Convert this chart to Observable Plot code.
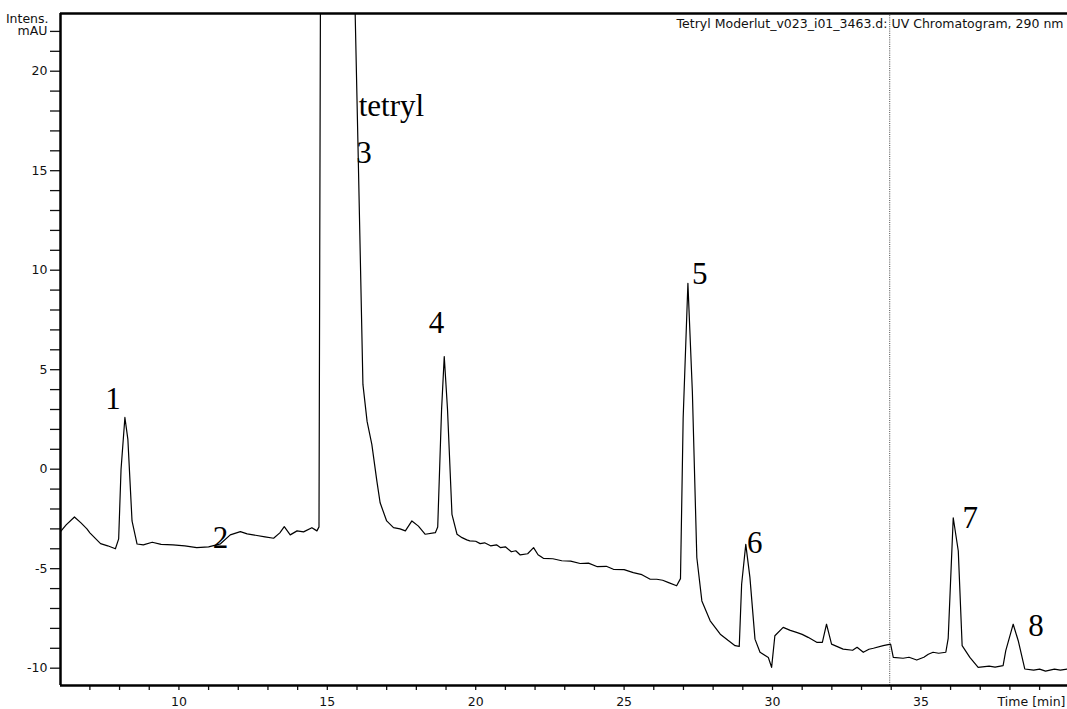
<!DOCTYPE html>
<html>
<head>
<meta charset="utf-8">
<script src="https://cdn.jsdelivr.net/npm/d3@7"></script>
<script src="https://cdn.jsdelivr.net/npm/@observablehq/plot@0.6"></script>
<style>
  html, body { margin: 0; padding: 0; background: #fff; }
  #chart { width: 1067px; height: 709px; }
</style>
</head>
<body>
<div id="chart"></div>
<script>
// Chromatogram trace (retention time in min, intensity in mAU)
const times = [
  6.01, 6.2, 6.48, 6.7, 6.9, 7.0, 7.2, 7.36, 7.6, 7.86, 7.97, 8.05, 8.18, 8.28, 8.42, 8.59,
  8.8, 9.1, 9.4, 9.8, 10.2, 10.6, 11.0, 11.4, 11.73, 12.07, 12.3, 12.5, 12.9, 13.19, 13.4, 13.55,
  13.75, 13.98, 14.2, 14.48, 14.65, 14.72, 14.78, 14.9, 15.5, 15.9, 15.94, 16.05, 16.2, 16.34, 16.5,
  16.67, 16.78, 16.84, 17.0, 17.23, 17.45, 17.63, 17.85, 18.07, 18.3, 18.64, 18.72, 18.85, 18.94, 19.05,
  19.2, 19.37, 19.54, 19.7, 19.8, 20.0, 20.15, 20.3, 20.5, 20.7, 20.83, 21.0, 21.2, 21.35, 21.5, 21.75, 21.95, 22.1, 22.28,
  22.6, 22.9, 23.2, 23.52, 23.8, 24.1, 24.4, 24.64, 25.0, 25.31, 25.6, 25.88, 26.1, 26.3, 26.5, 26.77,
  26.9, 26.99, 27.15, 27.3, 27.45, 27.62, 27.9, 28.24,
  28.5, 28.74, 28.88, 28.96, 29.1, 29.24, 29.41, 29.58, 29.86, 29.97, 30.08, 30.36, 30.6, 30.81, 31.0, 31.2, 31.49,
  31.68, 31.82, 31.99, 32.38, 32.7, 32.85, 33.06, 33.25, 33.4, 33.73, 33.98, 34.07, 34.4, 34.6, 34.86, 35.1, 35.25, 35.41, 35.6, 35.84,
  35.92, 36.09, 36.26, 36.39, 36.65, 36.93, 37.0, 37.3, 37.5, 37.77, 37.86, 38.11, 38.28, 38.5, 38.8, 39.0, 39.2, 39.5, 39.7, 39.94
];
const intensity = [
  -3.14, -2.8, -2.4, -2.7, -3.0, -3.2, -3.5, -3.74, -3.85, -4.0, -3.5, 0.0, 2.6, 1.5, -2.6, -3.76,
  -3.8, -3.67, -3.78, -3.8, -3.85, -3.94, -3.9, -3.75, -3.3, -3.14, -3.25, -3.3, -3.4, -3.47, -3.2, -2.89,
  -3.3, -3.1, -3.15, -2.94, -3.1, -2.9, 30, 80, 80, 30, 22.8, 15.1, 4.26, 2.4, 1.25,
  -0.6, -1.69, -1.94, -2.6, -2.94, -3.0, -3.1, -2.6, -2.86, -3.27, -3.19, -2.9, 3.0, 5.66, 3.0,
  -2.27, -3.27, -3.44, -3.55, -3.6, -3.62, -3.74, -3.7, -3.85, -3.8, -3.94, -3.9, -4.15, -4.1, -4.31, -4.25, -3.94, -4.3, -4.48,
  -4.5, -4.6, -4.62, -4.74, -4.72, -4.9, -4.88, -5.03, -5.05, -5.2, -5.3, -5.53, -5.53, -5.58, -5.7, -5.86,
  -5.5, 2.57, 9.34, 3.9, -4.44, -6.62, -7.62, -8.29,
  -8.6, -8.87, -8.9, -5.78, -3.78, -5.45, -8.54, -9.2, -9.46, -9.96, -8.37, -7.95, -8.1, -8.2, -8.3, -8.45, -8.7,
  -8.7, -7.79, -8.79, -9.04, -9.1, -8.95, -9.2, -9.05, -9.0, -8.87, -8.79, -9.46, -9.5, -9.45, -9.59, -9.45, -9.3, -9.2, -9.25, -9.2,
  -8.5, -2.44, -4.11, -8.87, -9.46, -9.96, -9.95, -9.9, -9.95, -9.87, -9.12, -7.79, -8.62, -10.04, -10.1, -10.05, -10.15, -10.05, -10.1, -10.04
];

// Peak annotations
const peakLabels = ["1", "2", "tetryl", "3", "4", "5", "6", "7", "8"];
const peakLabelTime = [7.78, 11.4, 17.16, 16.24, 18.68, 27.55, 29.4, 36.66, 38.88];
const peakLabelIntensity = [3.5, -3.46, 18.26, 15.89, 7.32, 9.83, -3.72, -2.45, -7.9];

// Axes
const xDomain = [6.01, 39.94];
const yDomain = [-10.87, 22.9];
const xTicks = d3.range(7, 40);
const yTicks = d3.range(-10, 23);
const markerTime = [33.95];

const titleText = "Tetryl Moderlut_v023_i01_3463.d: UV Chromatogram, 290 nm";
const yLabelTop = "Intens.";
const yUnit = "mAU";
const xLabel = "Time [min]";

const trace = times.map((t, i) => ({t, v: intensity[i]}));
const labels = peakLabels.map((s, i) => ({s, t: peakLabelTime[i], v: peakLabelIntensity[i]}));

const sans = "DejaVu Sans";
const serif = "Liberation Serif";
const fs = 12.5;

const chart = Plot.plot({
  width: 1067,
  height: 709,
  marginLeft: 60,
  marginRight: 0,
  marginTop: 13,
  marginBottom: 24,
  x: {domain: xDomain},
  y: {domain: yDomain},
  style: {fontFamily: sans, fontSize: fs + "px", color: "#111", background: "#fff"},
  marks: [
    Plot.axisX({
      ticks: xTicks, tickSize: 5, tickPadding: 7, strokeWidth: 1.3,
      tickFormat: d => d % 5 === 0 ? String(d) : "", label: null, fontSize: fs
    }),
    Plot.axisY({
      ticks: yTicks, tickSize: 10, tickPadding: 3, strokeWidth: 1.3,
      tickFormat: d => d === 22 ? yUnit : (d % 5 === 0 ? String(d) : ""), label: null, fontSize: fs
    }),
    Plot.ruleX(markerTime, {stroke: "#444", strokeWidth: 1, strokeDasharray: "1,1.2"}),
    Plot.line(trace, {x: "t", y: "v", stroke: "#000", strokeWidth: 1.2, curve: "linear", clip: true}),
    Plot.ruleY([yDomain[1]], {stroke: "#000", strokeWidth: 2.5}),
    Plot.ruleY([yDomain[0]], {stroke: "#000", strokeWidth: 2.5}),
    Plot.ruleX([xDomain[0]], {stroke: "#000", strokeWidth: 2.5}),
    Plot.text(labels, {x: "t", y: "v", text: "s", fontFamily: serif, fontSize: 31, fill: "#000", lineAnchor: "middle"}),
    Plot.text([titleText], {frameAnchor: "top-right", dx: -4, dy: 10, textAnchor: "end", lineAnchor: "middle", fontFamily: sans, fontSize: fs, fill: "#111"}),
    Plot.text([yLabelTop], {frameAnchor: "top-left", dx: -12, dy: 5, textAnchor: "end", lineAnchor: "middle", fontFamily: sans, fontSize: fs, fill: "#111"}),
    Plot.text([xLabel], {frameAnchor: "bottom-right", dx: -2, dy: 16, textAnchor: "end", lineAnchor: "middle", fontFamily: sans, fontSize: fs, fill: "#111"})
  ]
});
document.getElementById("chart").appendChild(chart);
</script>
</body>
</html>
